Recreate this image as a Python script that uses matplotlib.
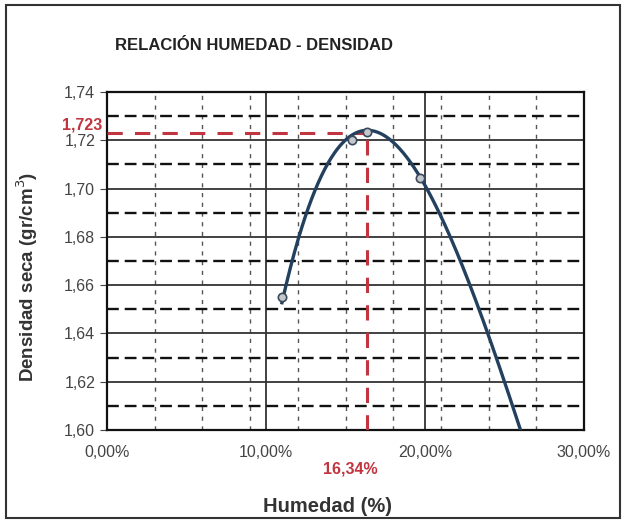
import numpy as np
import matplotlib.pyplot as plt
from matplotlib.patches import Rectangle

plt.rcParams['font.family'] = ['Liberation Sans', 'DejaVu Sans']

# lab points (humedad %, densidad seca)
humedad = [11.0, 15.4, 16.35, 19.7]
densidad = [1.655, 1.720, 1.7234, 1.7043]

# trend line
curva_w = [11.0, 11.3, 11.7, 12.1, 12.6, 13.1, 13.7, 14.8, 16.34, 17.6,
           19.2, 20.1, 21.0, 21.6, 22.2, 22.8, 23.3, 24.0, 24.5, 25.0, 25.5, 26.0]
curva_d = [1.655, 1.66, 1.67, 1.68, 1.69, 1.70, 1.71, 1.72, 1.723, 1.72,
           1.71, 1.70, 1.69, 1.68, 1.67, 1.66, 1.65, 1.64, 1.63, 1.62, 1.61, 1.60]

# optimum values printed in red
w_opt = 16.34
d_opt = 1.723

x_ticks = [0, 10, 20, 30]
x_minor = [3, 6, 9, 12, 15, 18, 21, 24, 27]
y_ticks = [1.60, 1.62, 1.64, 1.66, 1.68, 1.70, 1.72, 1.74]
y_minor = [1.61, 1.63, 1.65, 1.67, 1.69, 1.71, 1.73]

fig = plt.figure(figsize=(6.26, 5.22), dpi=100)
ax = fig.add_axes([0.171, 0.176, 0.762, 0.648])

# smooth the read trend line with a polynomial fit
coef = np.polyfit(curva_w, curva_d, 4)
xs = np.linspace(curva_w[0], 26.5, 300)
ax.plot(xs, np.polyval(coef, xs), color='#23405e', lw=2.4, zorder=4)
ax.plot(humedad, densidad, 'o', ms=6, mfc='#c4c8cc', mec='#3a4a5a', mew=1.2, zorder=5)

# red dashed lines to the optimum
red = '#c0353f'
ax.plot([0, w_opt], [d_opt, d_opt], color=red, lw=2.2, ls=(0, (5, 4)), zorder=3)
ax.plot([w_opt, w_opt], [1.60, d_opt], color=red, lw=2.2, ls=(0, (5, 4)), zorder=3)

ax.set_xlim(0, 30)
ax.set_ylim(1.60, 1.74)
ax.set_xticks(x_ticks)
ax.set_xticks(x_minor, minor=True)
ax.set_yticks(y_ticks)
ax.set_yticks(y_minor, minor=True)
ax.set_xticklabels([f"{v:.2f}%".replace('.', ',') for v in x_ticks])
ax.set_yticklabels([f"{v:.2f}".replace('.', ',') for v in y_ticks])
ax.tick_params(which='both', length=0, labelsize=11.5, labelcolor='#444444')
ax.tick_params(axis='y', which='major', length=5, color='#444444')
ax.tick_params(axis='x', pad=11)

ax.xaxis.grid(True, which='major', color='#333333', lw=1.3, zorder=1)
ax.yaxis.grid(True, which='major', color='#333333', lw=1.3, zorder=1)
ax.xaxis.grid(True, which='minor', color='#555555', lw=1.0, ls=(0, (3, 4)), zorder=1)
ax.yaxis.grid(True, which='minor', color='#111111', lw=1.7, ls=(0, (5, 2.5)), zorder=1)
ax.set_axisbelow(True)
for s in ax.spines.values():
    s.set_color('#111111')
    s.set_linewidth(1.6)

ax.text(-0.3, d_opt, "1,723", color=red, fontsize=11.5, fontweight='bold',
        ha='right', va='bottom')
ax.text(15.3, 1.60 - 0.013, "16,34%", color=red, fontsize=11.5, fontweight='bold',
        ha='center', va='top')

fig.text(0.405, 0.913, "RELACIÓN HUMEDAD - DENSIDAD", fontsize=12, fontweight='bold',
         ha='center', va='center', color='#222222')
ax.set_xlabel("Humedad (%)", fontsize=14.5, fontweight='bold', color='#333333')
ax.xaxis.set_label_coords(0.462, -0.198)
ax.set_ylabel("Densidad seca (gr/cm$^3$)", fontsize=13.5, fontweight='bold', color='#333333')
ax.yaxis.set_label_coords(-0.14, 0.453)

fig.patches.append(Rectangle((0.009, 0.008), 0.982, 0.982, transform=fig.transFigure,
                             fill=False, ec='#333333', lw=1.5))

fig.savefig("out.png", dpi=100)
